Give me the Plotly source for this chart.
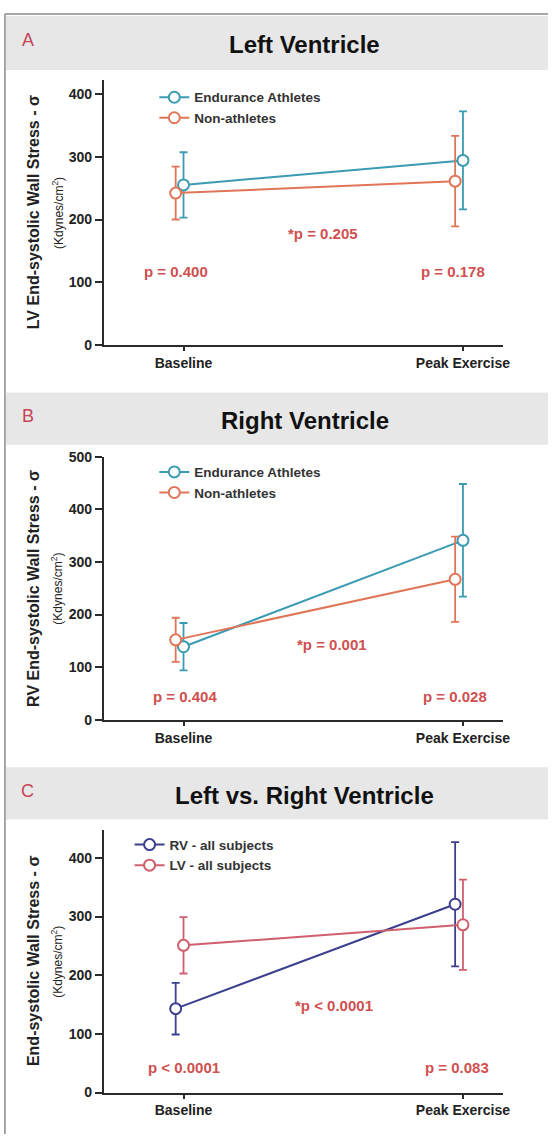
import plotly.graph_objects as go

W, H = 554, 1142

categories = ["Baseline", "Peak Exercise"]

# Panel A - Left Ventricle
lv_athletes = [255, 294]
lv_athletes_err = [52, 78]
lv_non = [242, 261]
lv_non_err = [42, 72]
pA = [("*p = 0.205", 0.50, 177), ("p = 0.400", -0.027, 118), ("p = 0.178", 0.963, 118)]

# Panel B - Right Ventricle
rv_athletes = [139, 341]
rv_athletes_err = [45, 107]
rv_non = [152, 267]
rv_non_err = [42, 81]
pB = [("*p = 0.001", 0.53, 144), ("p = 0.404", 0.005, 45), ("p = 0.028", 0.97, 45)]

# Panel C - Left vs Right
rv_all = [143, 321]
rv_all_err = [44, 106]
lv_all = [251, 286]
lv_all_err = [48, 77]
pC = [("*p < 0.0001", 0.54, 148), ("p < 0.0001", 0.0, 42), ("p = 0.083", 0.98, 42)]

TEAL = "#3b9bb2"
ORANGE = "#e07657"
NAVY = "#3b3f8e"
PINK = "#cf5f6c"
PCOL = "#d0504f"
AXC = "#2a2a2a"
FONT = "Liberation Sans, Arial, sans-serif"
OFF = 0.028


def py(px):
    return 1 - px / H


def pxx(px):
    return px / W


fig = go.Figure()

panels = [
    dict(ax="", title="Left Ventricle", letter="A", top=73, bot=342, rng=422, dtick=100,
         ytitle="LV End-systolic Wall Stress - σ", band=(8, 63),
         series=[("Endurance Athletes", lv_athletes, lv_athletes_err, TEAL, 0.0),
                 ("Non-athletes", lv_non, lv_non_err, ORANGE, -OFF)],
         pv=pA, leg=(156, 75)),
    dict(ax="2", title="Right Ventricle", letter="B", top=455, bot=722, rng=500, dtick=100,
         ytitle="RV End-systolic Wall Stress - σ", band=(390, 443),
         series=[("Endurance Athletes", rv_athletes, rv_athletes_err, TEAL, 0.0),
                 ("Non-athletes", rv_non, rv_non_err, ORANGE, -OFF)],
         pv=pB, leg=(156, 455)),
    dict(ax="3", title="Left vs. Right Ventricle", letter="C", top=834, bot=1100, rng=447, dtick=100,
         ytitle="End-systolic Wall Stress - σ", band=(770, 823),
         series=[("RV - all subjects", rv_all, rv_all_err, NAVY, -OFF),
                 ("LV - all subjects", lv_all, lv_all_err, PINK, 0.0)],
         pv=pC, leg=(131, 833)),
]

shapes = []
annotations = []
xs_base = list(range(len(categories)))

for i, p in enumerate(panels):
    ax = p["ax"]
    legname = "legend" if i == 0 else f"legend{i+1}"
    for name, vals, errs, col, off in p["series"]:
        fig.add_trace(go.Scatter(
            x=[x + off for x in xs_base], y=vals, name=name,
            mode="lines+markers",
            line=dict(color=col, width=2),
            marker=dict(symbol="circle", size=11, color="white", line=dict(color=col, width=2)),
            error_y=dict(type="data", array=errs, visible=True, color=col, thickness=1.8, width=4),
            xaxis="x" + ax, yaxis="y" + ax, legend=legname,
        ))
    common_axis = dict(showline=True, linecolor=AXC, linewidth=2, ticks="outside",
                       tickcolor=AXC, tickwidth=1.5, showgrid=False, zeroline=False,
                       tickfont=dict(family=FONT, size=14, color="#222", weight="bold"))
    fig.update_layout(**{
        "xaxis" + ax: dict(domain=[pxx(105), pxx(509)], range=[-0.285, 1.145],
                           tickvals=xs_base, ticktext=categories, anchor="y" + ax, ticklen=4,
                           **common_axis),
        "yaxis" + ax: dict(domain=[py(p["bot"]), py(p["top"])], range=[0, p["rng"]],
                           dtick=p["dtick"], tick0=0, anchor="x" + ax, ticklen=7, **common_axis),
        legname: dict(x=pxx(p["leg"][0]), y=py(p["leg"][1]), xanchor="left", yanchor="top",
                      bgcolor="rgba(0,0,0,0)",
                      font=dict(family=FONT, size=13.5, color="#333", weight="bold")),
    })
    b0, b1 = p["band"]
    shapes.append(dict(type="rect", xref="paper", yref="paper", x0=pxx(6), x1=1,
                       y0=py(b1), y1=py(b0), fillcolor="#e7e7e7", line=dict(width=0), layer="below"))
    annotations.append(dict(text=p["title"], xref="paper", yref="paper", x=pxx(308), y=py((b0 + b1) / 2 + 2),
                            showarrow=False, xanchor="center", yanchor="middle",
                            font=dict(family=FONT, size=24, color="#111", weight="bold")))
    annotations.append(dict(text=p["letter"], xref="paper", yref="paper", x=pxx(28), y=py(b0 + 24),
                            showarrow=False, xanchor="center", yanchor="middle",
                            font=dict(family=FONT, size=18, color="#c4445a")))
    mid = (p["top"] + p["bot"]) / 2
    annotations.append(dict(text=p["ytitle"], xref="paper", yref="paper", x=pxx(34), y=py(mid),
                            showarrow=False, textangle=-90, xanchor="center", yanchor="middle",
                            font=dict(family=FONT, size=16, color="#222", weight="bold")))
    annotations.append(dict(text="(Kdynes/cm<sup>2</sup>)", xref="paper", yref="paper", x=pxx(58), y=py(mid),
                            showarrow=False, textangle=-90, xanchor="center", yanchor="middle",
                            font=dict(family=FONT, size=12, color="#222")))
    for txt, xv, yv in p["pv"]:
        annotations.append(dict(text=txt, xref="x" + ax, yref="y" + ax, x=xv, y=yv, showarrow=False,
                                xanchor="center", yanchor="middle",
                                font=dict(family=FONT, size=15, color=PCOL, weight="bold")))

# outer border lines
shapes.append(dict(type="line", xref="paper", yref="paper", x0=pxx(5), x1=pxx(5), y0=0, y1=py(6),
                   line=dict(color="#8a8a8a", width=1.5)))
shapes.append(dict(type="line", xref="paper", yref="paper", x0=pxx(5), x1=1, y0=py(6), y1=py(6),
                   line=dict(color="#8a8a8a", width=1.5)))

fig.update_layout(
    width=W, height=H, margin=dict(l=0, r=0, t=0, b=0),
    paper_bgcolor="white", plot_bgcolor="rgba(0,0,0,0)",
    shapes=shapes, annotations=annotations, showlegend=True,
)

fig.write_html("out.html")
